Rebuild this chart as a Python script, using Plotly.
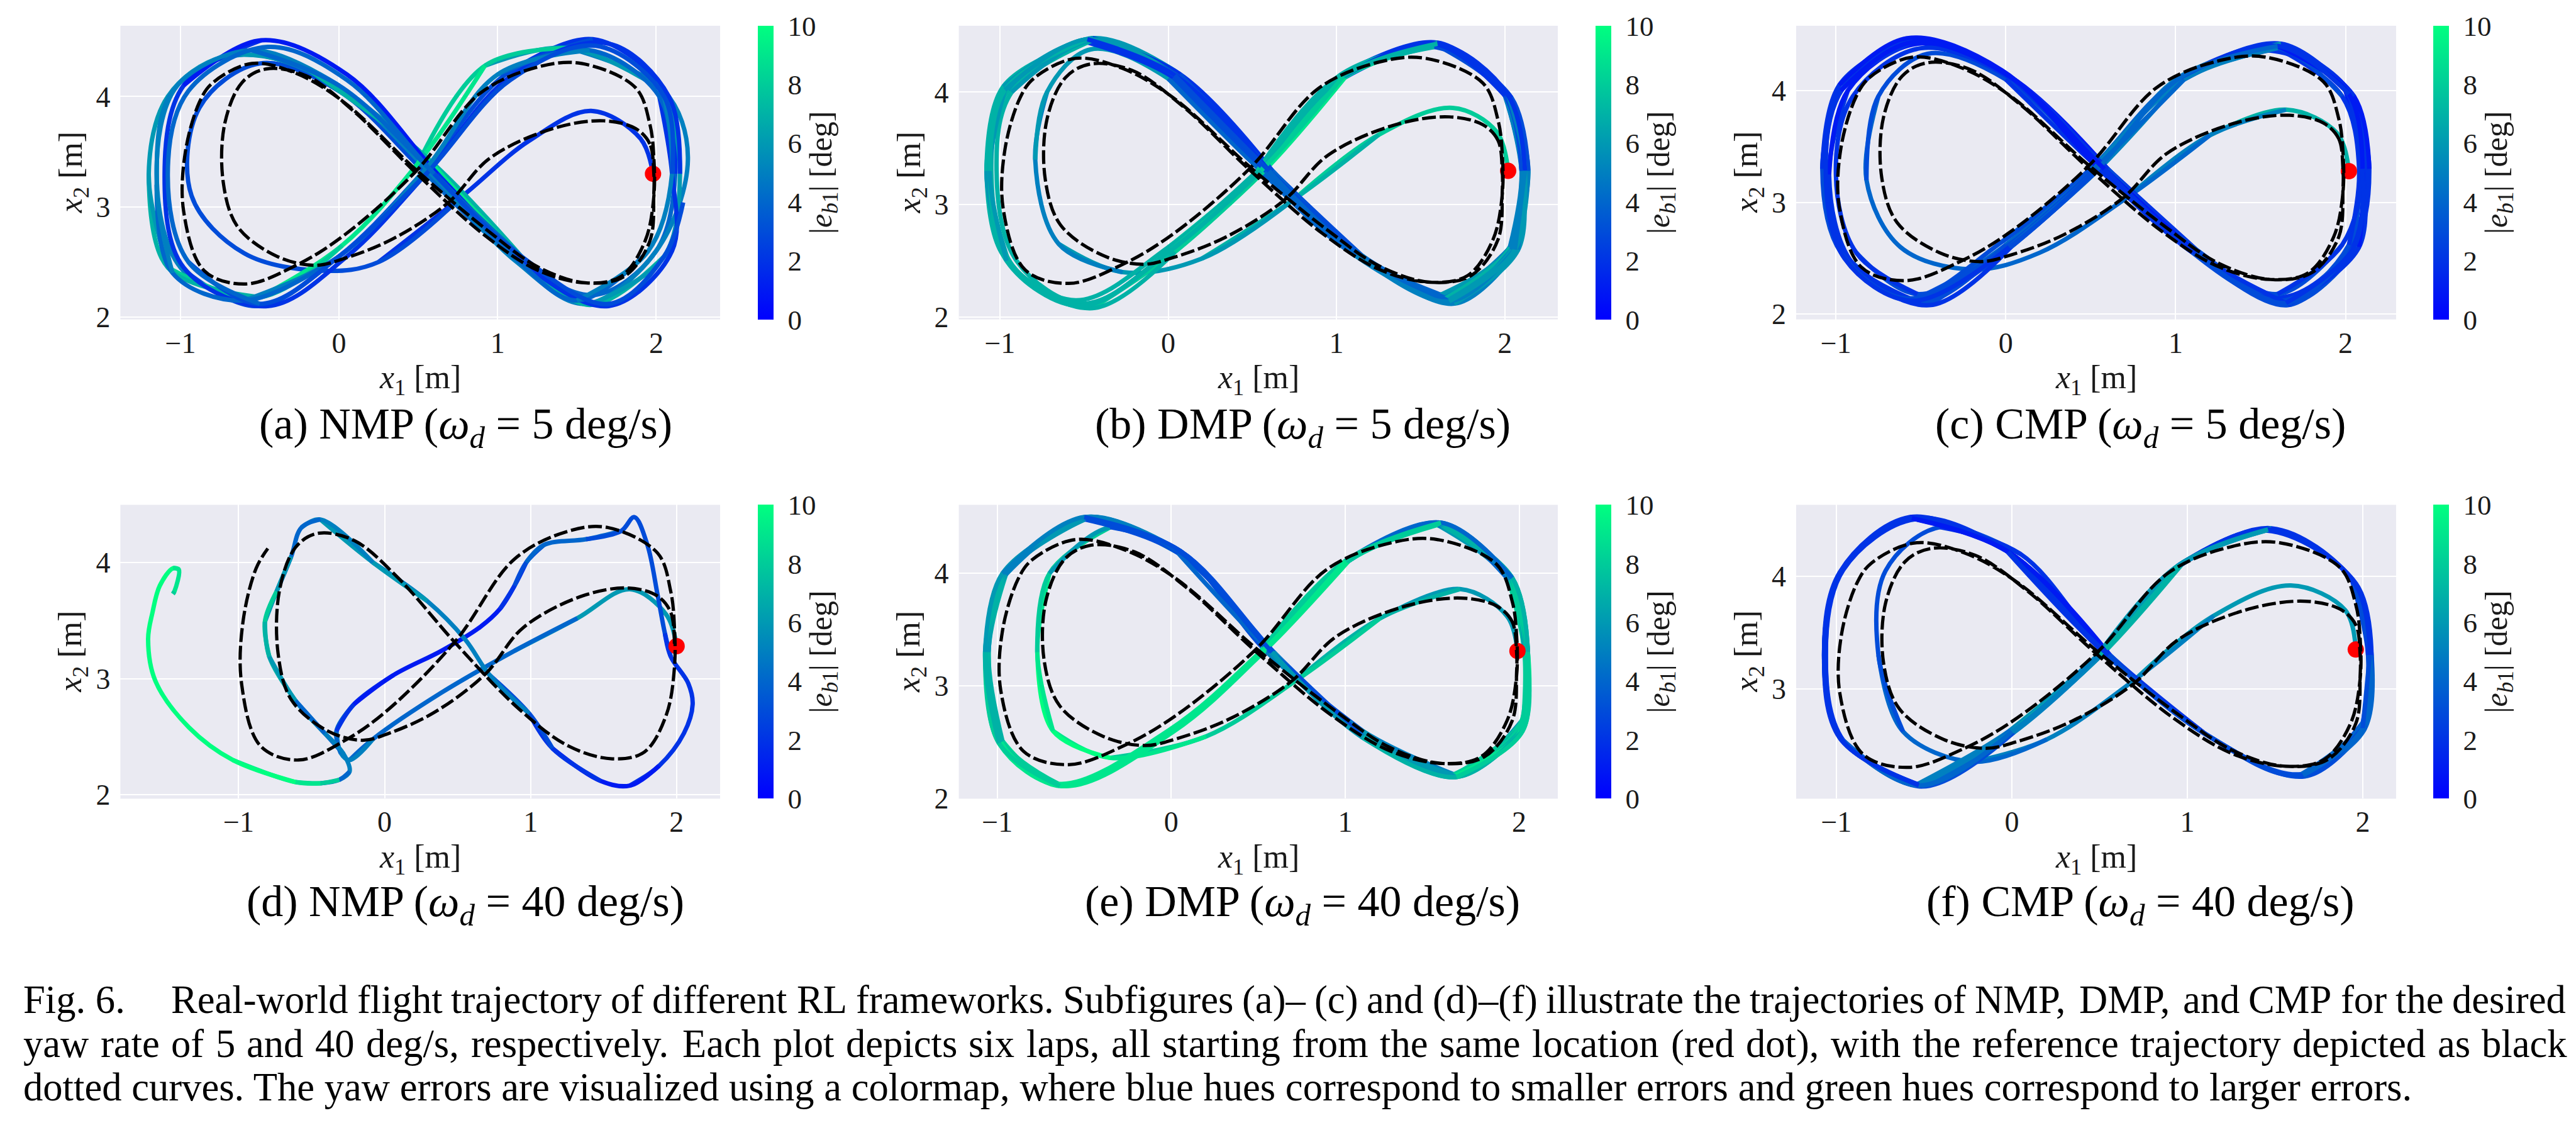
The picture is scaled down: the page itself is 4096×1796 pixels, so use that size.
import plotly.graph_objects as go
from plotly.colors import sample_colorscale

W, H = 4096, 1796
FONT = "Liberation Serif"
INK = "#1a1a1a"
BG = "#EAEAF2"
WINTER = [[0.0, "rgb(0,0,255)"], [1.0, "rgb(0,255,128)"]]
E_MAX = 10

# ---------------- reference trajectory (black dashed) ----------------
REF_X = [1.985, 1.96, 1.87, 1.67, 1.35, 0.95, 0.69, 0.34, 0.03, -0.15, -0.39, -0.64, -0.73, -0.72, -0.61, -0.46, -0.21, 0.09, 0.49, 0.92, 1.26, 1.56, 1.78, 1.93, 1.985,
         1.985, 1.96, 1.87, 1.53, 1.26, 0.89, 0.49, 0.03, -0.27, -0.59, -0.85, -0.98, -0.97, -0.88, -0.80, -0.55, -0.27, 0.03, 0.49, 0.95, 1.26, 1.56, 1.80, 1.96, 1.985, 1.985]
REF_Y = [3.30, 3.57, 3.71, 3.78, 3.71, 3.44, 3.04, 2.71, 2.53, 2.47, 2.55, 2.82, 3.22, 3.76, 4.13, 4.25, 4.19, 3.87, 3.30, 2.74, 2.42, 2.31, 2.37, 2.69, 3.09,
         3.45, 3.75, 4.08, 4.30, 4.27, 4.03, 3.33, 2.74, 2.47, 2.30, 2.42, 2.96, 3.49, 3.95, 4.12, 4.30, 4.21, 3.95, 3.33, 2.77, 2.45, 2.31, 2.37, 2.69, 3.12, 3.30]
REF_D_LEN = 40   # panel (d): reference shown only up to the crash

# start location (red dot) per panel a..f
START_X = [1.98, 2.02, 2.02, 2.00, 1.99, 1.96]
START_Y = [3.30, 3.30, 3.28, 3.28, 3.31, 3.35]

# ---------------- (a) NMP 5 deg/s ----------------
A_X = [1.98, 1.90, 1.59, 1.20, 0.78, 0.25, -0.10, -0.60, -0.93, -0.88, -0.50, 0.00, 0.55, 1.05, 1.60, 2.00,
       2.12, 2.05, 1.60, 1.05, 0.52, 0.00, -0.52, -1.00, -1.15, -1.02, -0.60, -0.02, 0.58, 1.12, 1.55, 2.00,
       2.20, 2.05, 1.45, 0.92, 0.50, 0.02, -0.50, -1.08, -1.20, -1.08, -0.73, -0.20, 0.55, 1.15, 1.58, 2.05,
       2.15, 2.08, 1.70, 1.10, 0.55, 0.05, -0.45, -0.98, -1.10, -0.98, -0.49, 0.05, 0.62, 1.15, 1.70, 2.10,
       2.10, 2.02, 1.58, 1.00, 0.55, 0.00, -0.60, -1.05, -1.15, -1.05, -0.55, 0.00, 0.60, 1.10, 1.50, 1.95,
       2.10, 2.05, 1.62, 1.08, 0.55, 0.00, -0.50, -0.95, -1.08, -0.95, -0.45, 0.05, 0.60, 1.15, 1.70, 2.05,
       2.17]
A_Y = [3.30, 3.62, 3.87, 3.60, 3.10, 2.50, 2.42, 2.58, 3.10, 3.90, 4.30, 4.05, 3.30, 2.62, 2.20, 2.60,
       3.30, 4.05, 4.52, 4.20, 3.30, 2.55, 2.10, 2.45, 3.30, 4.10, 4.38, 4.10, 3.30, 2.50, 2.12, 2.60,
       3.45, 4.05, 4.44, 4.28, 3.40, 2.65, 2.18, 2.45, 3.30, 4.00, 4.36, 4.25, 3.45, 2.55, 2.11, 2.55,
       3.30, 4.00, 4.48, 4.20, 3.30, 2.55, 2.10, 2.45, 3.30, 4.10, 4.51, 4.20, 3.30, 2.50, 2.10, 2.60,
       3.30, 4.00, 4.42, 4.20, 3.35, 2.55, 2.15, 2.40, 3.20, 4.05, 4.42, 4.10, 3.30, 2.55, 2.15, 2.60,
       3.30, 4.00, 4.46, 4.15, 3.30, 2.55, 2.12, 2.50, 3.30, 4.05, 4.45, 4.15, 3.30, 2.55, 2.12, 2.55,
       3.04]
A_E = [2, 2, 2, 2, 3, 3, 3, 3, 3, 3, 3, 3, 4, 4, 4, 4,
       2, 2, 3, 3, 3, 3, 5, 5, 5, 5, 5, 5, 5, 5, 5, 5,
       5, 6, 8, 9, 9, 8, 7, 6, 6, 6, 6, 7, 9, 7, 6, 6,
       2, 2, 2, 2, 2, 2, 2, 2, 2, 1, 1, 1, 2, 2, 2, 2,
       4, 4, 5, 5, 5, 4, 4, 5, 5, 5, 4, 4, 4, 4, 5, 5,
       3, 3, 3, 3, 3, 3, 4, 4, 4, 4, 4, 4, 3, 3, 3, 3,
       3]

# ---------------- (b) DMP 5 deg/s ----------------
B_X = [2.02, 1.95, 1.69, 1.25, 0.75, 0.20, -0.27, -0.65, -0.79, -0.72, -0.46, 0.00, 0.55, 1.08, 1.62, 2.02,
       2.12, 2.02, 1.60, 1.02, 0.55, 0.02, -0.50, -0.95, -1.07, -0.97, -0.48, 0.05, 0.60, 1.13, 1.68, 2.05,
       2.14, 2.04, 1.62, 1.05, 0.57, 0.04, -0.45, -0.92, -1.05, -0.95, -0.45, 0.07, 0.62, 1.15, 1.70, 2.08,
       2.10, 2.00, 1.58, 1.00, 0.53, 0.00, -0.55, -0.98, -1.08, -0.98, -0.50, 0.03, 0.58, 1.10, 1.65, 2.03,
       2.10, 2.00, 1.58, 1.03, 0.55, 0.02, -0.50, -0.90, -1.02, -0.93, -0.45, 0.05, 0.60, 1.12, 1.66, 2.04,
       2.12, 2.02, 1.60, 1.04, 0.55, 0.02, -0.52, -0.96, -1.06, -0.97, -0.48, 0.04, 0.60, 1.12, 1.67, 2.06,
       2.12]
B_Y = [3.30, 3.65, 3.86, 3.62, 3.05, 2.52, 2.40, 2.65, 3.40, 4.00, 4.38, 4.12, 3.30, 2.58, 2.20, 2.60,
       3.30, 3.98, 4.44, 4.15, 3.30, 2.60, 2.12, 2.50, 3.30, 4.00, 4.47, 4.15, 3.30, 2.55, 2.14, 2.60,
       3.30, 3.95, 4.42, 4.13, 3.30, 2.58, 2.08, 2.45, 3.25, 4.02, 4.48, 4.16, 3.30, 2.55, 2.12, 2.60,
       3.30, 4.00, 4.40, 4.12, 3.30, 2.62, 2.15, 2.55, 3.30, 4.05, 4.45, 4.13, 3.30, 2.58, 2.17, 2.62,
       3.30, 3.97, 4.43, 4.13, 3.30, 2.60, 2.12, 2.50, 3.30, 4.00, 4.46, 4.15, 3.30, 2.57, 2.15, 2.60,
       3.30, 3.97, 4.43, 4.14, 3.30, 2.60, 2.10, 2.50, 3.30, 4.02, 4.47, 4.15, 3.30, 2.56, 2.14, 2.60,
       3.30]
B_E = [8, 8, 8, 7, 6, 6, 5, 5, 6, 6, 6, 4, 4, 5, 6, 6,
       3, 2, 7, 8, 7, 7, 7, 6, 7, 6, 3, 3, 4, 5, 6, 5,
       3, 2, 8, 9, 8, 7, 7, 7, 7, 6, 2, 3, 4, 5, 6, 5,
       3, 3, 7, 8, 7, 7, 7, 6, 7, 6, 2, 3, 4, 5, 7, 5,
       3, 2, 8, 8, 7, 7, 7, 7, 7, 6, 3, 3, 4, 5, 6, 5,
       2, 2, 7, 8, 7, 7, 7, 6, 7, 6, 2, 3, 4, 5, 6, 5,
       3]

# ---------------- (c) CMP 5 deg/s ----------------
C_X = [2.02, 1.95, 1.65, 1.20, 0.72, 0.20, -0.20, -0.62, -0.82, -0.75, -0.46, 0.00, 0.55, 1.08, 1.62, 2.02,
       2.12, 2.03, 1.58, 1.02, 0.53, 0.00, -0.50, -0.93, -1.06, -0.96, -0.55, 0.00, 0.58, 1.12, 1.66, 2.05,
       2.14, 2.05, 1.62, 1.05, 0.55, 0.03, -0.45, -0.90, -1.04, -0.93, -0.52, 0.03, 0.60, 1.14, 1.68, 2.08,
       2.10, 2.00, 1.55, 1.00, 0.50, -0.02, -0.58, -0.97, -1.08, -0.98, -0.58, -0.02, 0.55, 1.10, 1.63, 2.02,
       2.08, 1.98, 1.60, 1.05, 0.52, 0.00, -0.52, -0.88, -1.00, -0.90, -0.50, 0.04, 0.60, 1.12, 1.60, 1.98,
       2.10, 2.02, 1.60, 1.03, 0.54, 0.02, -0.55, -0.95, -1.06, -0.97, -0.56, 0.00, 0.58, 1.12, 1.65, 2.05,
       2.10]
C_Y = [3.28, 3.62, 3.83, 3.60, 3.05, 2.55, 2.40, 2.60, 3.20, 3.95, 4.33, 4.10, 3.30, 2.58, 2.15, 2.58,
       3.30, 3.98, 4.40, 4.12, 3.30, 2.62, 2.10, 2.50, 3.30, 4.02, 4.45, 4.15, 3.30, 2.55, 2.08, 2.60,
       3.30, 3.95, 4.42, 4.13, 3.30, 2.60, 2.08, 2.45, 3.25, 4.00, 4.42, 4.12, 3.30, 2.52, 2.10, 2.60,
       3.30, 4.00, 4.36, 4.08, 3.30, 2.65, 2.14, 2.55, 3.30, 4.05, 4.47, 4.18, 3.30, 2.55, 2.12, 2.62,
       3.30, 3.95, 4.38, 4.10, 3.30, 2.60, 2.18, 2.55, 3.25, 3.95, 4.38, 4.10, 3.30, 2.58, 2.18, 2.62,
       3.30, 3.97, 4.40, 4.12, 3.30, 2.60, 2.12, 2.50, 3.30, 4.00, 4.43, 4.15, 3.30, 2.55, 2.10, 2.60,
       3.30]
C_E = [7, 7, 5, 4, 4, 4, 4, 4, 3, 3, 3, 2, 2, 2, 2, 2,
       2, 2, 5, 5, 4, 3, 2, 2, 2, 2, 1, 1, 2, 3, 2, 2,
       1, 2, 6, 5, 3, 2, 2, 2, 1, 1, 1, 2, 3, 3, 2, 1,
       2, 2, 4, 4, 3, 3, 3, 3, 2, 1, 1, 1, 2, 3, 3, 2,
       2, 3, 5, 4, 3, 3, 2, 2, 2, 2, 2, 2, 3, 3, 2, 2,
       1, 2, 4, 4, 3, 2, 2, 2, 2, 1, 1, 1, 2, 3, 2, 2,
       1]

# ---------------- (d) NMP 40 deg/s (crash) ----------------
D_X = [2.00, 1.93, 1.68, 1.32, 0.89, 0.39, -0.08, -0.24, -0.30, -0.33, -0.21, 0.06, 0.39, 0.65, 0.79, 0.89, 0.97, 1.09, 1.38, 1.62,
       1.71, 1.80, 1.87, 1.92, 1.96, 2.08, 2.11, 2.05, 1.88, 1.68, 1.48, 1.15, 0.99, 0.72, 0.55, 0.29, -0.08, -0.44, -0.57, -0.64,
       -0.74, -0.82, -0.79, -0.61, -0.41, -0.28, -0.24, -0.31, -0.44, -0.61, -1.04, -1.34, -1.57, -1.62, -1.59, -1.54, -1.45, -1.41, -1.44, -1.45]
D_Y = [3.28, 3.55, 3.77, 3.52, 3.24, 2.88, 2.48, 2.30, 2.36, 2.55, 2.78, 3.03, 3.24, 3.44, 3.60, 3.80, 4.00, 4.15, 4.20, 4.27,
       4.39, 4.15, 3.72, 3.39, 3.19, 2.96, 2.78, 2.53, 2.25, 2.08, 2.12, 2.40, 2.70, 3.03, 3.34, 3.67, 4.00, 4.37, 4.30, 4.05,
       3.75, 3.49, 3.19, 2.81, 2.53, 2.35, 2.20, 2.13, 2.10, 2.11, 2.30, 2.58, 2.98, 3.34, 3.57, 3.80, 3.95, 3.94, 3.75, 3.73]
D_E = [6, 6, 6, 4, 4, 4, 5, 5, 4, 2, 1, 1, 1, 1, 2, 3, 4, 4, 3, 3,
       3, 3, 3, 2, 2, 2, 2, 2, 1, 1, 2, 3, 5, 5, 5, 6, 5, 4, 4, 6,
       8, 7, 6, 4, 5, 5, 4, 8, 9, 10, 10, 10, 10, 10, 10, 10, 9, 9, 8, 5]

# ---------------- (e) DMP 40 deg/s ----------------
E_X = [1.99, 1.93, 1.66, 1.20, 0.72, 0.20, -0.35, -0.68, -0.77, -0.70, -0.35, 0.05, 0.55, 1.10, 1.63, 2.02,
       2.04, 1.95, 1.54, 1.00, 0.52, 0.00, -0.64, -0.98, -1.06, -0.96, -0.49, 0.05, 0.58, 1.10, 1.63, 2.00,
       2.05, 1.96, 1.55, 1.02, 0.53, 0.01, -0.62, -0.99, -1.06, -0.96, -0.48, 0.06, 0.59, 1.11, 1.64, 2.02,
       2.03, 1.94, 1.53, 0.99, 0.51, -0.01, -0.65, -0.97, -1.05, -0.95, -0.50, 0.04, 0.57, 1.09, 1.62, 1.99,
       2.04, 1.95, 1.54, 1.01, 0.52, 0.00, -0.63, -0.98, -1.06, -0.96, -0.49, 0.05, 0.58, 1.10, 1.63, 2.01,
       2.05, 1.96, 1.55, 1.00, 0.52, 0.00, -0.64, -0.99, -1.07, -0.97, -0.50, 0.05, 0.58, 1.10, 1.64, 2.02,
       2.04]
E_Y = [3.31, 3.62, 3.86, 3.60, 3.05, 2.55, 2.36, 2.60, 3.30, 4.00, 4.41, 4.20, 3.30, 2.60, 2.21, 2.70,
       3.30, 3.95, 4.44, 4.10, 3.30, 2.60, 2.12, 2.50, 3.30, 4.00, 4.50, 4.20, 3.30, 2.55, 2.20, 2.60,
       3.30, 3.96, 4.45, 4.11, 3.30, 2.59, 2.11, 2.49, 3.30, 4.01, 4.49, 4.19, 3.30, 2.54, 2.19, 2.60,
       3.30, 3.94, 4.43, 4.09, 3.30, 2.61, 2.13, 2.51, 3.30, 3.99, 4.48, 4.18, 3.30, 2.56, 2.21, 2.61,
       3.30, 3.95, 4.44, 4.10, 3.30, 2.60, 2.12, 2.50, 3.30, 4.00, 4.49, 4.19, 3.30, 2.55, 2.20, 2.60,
       3.30, 3.96, 4.45, 4.11, 3.30, 2.60, 2.11, 2.49, 3.30, 4.00, 4.50, 4.20, 3.30, 2.54, 2.19, 2.60,
       3.30]
E_E = [6, 6, 7, 8, 8, 9, 10, 9, 8, 6, 3, 3, 5, 6, 8, 8,
       7, 5, 8, 9, 9, 9, 8, 7, 6, 5, 3, 3, 6, 7, 8, 8,
       7, 5, 8, 9, 9, 9, 9, 7, 6, 5, 3, 3, 6, 7, 9, 8,
       6, 4, 8, 9, 9, 9, 8, 7, 6, 5, 3, 4, 6, 7, 8, 8,
       7, 5, 8, 9, 9, 9, 9, 7, 6, 5, 3, 3, 6, 7, 9, 8,
       7, 4, 8, 9, 9, 9, 8, 7, 6, 5, 3, 3, 6, 7, 8, 8,
       7]

# ---------------- (f) CMP 40 deg/s ----------------
F_X = [1.96, 1.90, 1.59, 1.15, 0.70, 0.20, -0.22, -0.62, -0.76, -0.72, -0.41, 0.05, 0.55, 1.10, 1.64, 2.00,
       2.04, 1.95, 1.46, 0.95, 0.50, 0.00, -0.53, -0.97, -1.07, -0.97, -0.57, -0.02, 0.55, 1.10, 1.66, 2.00,
       2.03, 1.94, 1.48, 0.97, 0.51, 0.01, -0.51, -0.96, -1.06, -0.96, -0.55, -0.01, 0.56, 1.11, 1.67, 2.01,
       2.05, 1.96, 1.45, 0.94, 0.49, -0.01, -0.54, -0.98, -1.07, -0.98, -0.58, -0.03, 0.54, 1.09, 1.65, 2.01,
       2.04, 1.95, 1.47, 0.96, 0.50, 0.00, -0.52, -0.97, -1.06, -0.97, -0.56, -0.02, 0.55, 1.10, 1.66, 2.00,
       2.04, 1.95, 1.46, 0.95, 0.50, 0.00, -0.53, -0.97, -1.07, -0.97, -0.57, -0.02, 0.55, 1.10, 1.66, 2.00,
       2.04]
F_Y = [3.35, 3.70, 3.92, 3.65, 3.08, 2.55, 2.35, 2.62, 3.30, 4.05, 4.44, 4.20, 3.30, 2.60, 2.23, 2.70,
       3.30, 3.95, 4.42, 4.10, 3.30, 2.62, 2.14, 2.55, 3.30, 4.05, 4.52, 4.22, 3.30, 2.60, 2.23, 2.65,
       3.30, 3.96, 4.43, 4.11, 3.30, 2.61, 2.13, 2.54, 3.30, 4.06, 4.51, 4.21, 3.30, 2.59, 2.22, 2.64,
       3.30, 3.94, 4.41, 4.09, 3.30, 2.63, 2.15, 2.56, 3.30, 4.04, 4.53, 4.23, 3.30, 2.61, 2.24, 2.66,
       3.30, 3.95, 4.42, 4.10, 3.30, 2.62, 2.14, 2.55, 3.30, 4.05, 4.52, 4.22, 3.30, 2.60, 2.23, 2.65,
       3.30, 3.95, 4.42, 4.10, 3.30, 2.62, 2.14, 2.55, 3.30, 4.05, 4.52, 4.22, 3.30, 2.60, 2.23, 2.65,
       3.30]
F_E = [6, 6, 6, 5, 5, 4, 4, 3, 3, 3, 2, 2, 3, 3, 4, 3,
       2, 2, 6, 7, 5, 4, 2, 2, 2, 2, 1, 2, 3, 3, 4, 3,
       2, 2, 6, 7, 5, 3, 2, 2, 2, 2, 1, 2, 3, 3, 4, 3,
       2, 2, 6, 7, 5, 4, 2, 2, 2, 2, 1, 2, 3, 3, 4, 3,
       2, 2, 6, 7, 5, 4, 2, 2, 2, 2, 2, 2, 3, 3, 4, 3,
       2, 2, 6, 7, 5, 4, 2, 2, 2, 2, 1, 2, 3, 3, 4, 3,
       2]

PATH_X = [A_X, B_X, C_X, D_X, E_X, F_X]
PATH_Y = [A_Y, B_Y, C_Y, D_Y, E_Y, F_Y]
PATH_E = [A_E, B_E, C_E, D_E, E_E, F_E]

X_RANGES = [[-1.379, 2.403], [-1.244, 2.315], [-1.234, 2.298], [-1.81, 2.298], [-1.221, 2.222], [-1.229, 2.19]]
Y_RANGES = [[1.979, 4.642], [1.98, 4.59], [1.953, 4.581], [1.967, 4.496], [1.997, 4.609], [2.021, 4.639]]
X_TICKS = [-1, 0, 1, 2]
X_TICK_TEXT = ["\u22121", "0", "1", "2"]
Y_TICKS = [2, 3, 4]
CB_TICKS = [0, 2, 4, 6, 8, 10]

SUBCAPTIONS = [
    "(a) NMP (<i>\u03c9</i><sub><i>d</i></sub> = 5 deg/s)",
    "(b) DMP (<i>\u03c9</i><sub><i>d</i></sub> = 5 deg/s)",
    "(c) CMP (<i>\u03c9</i><sub><i>d</i></sub> = 5 deg/s)",
    "(d) NMP (<i>\u03c9</i><sub><i>d</i></sub> = 40 deg/s)",
    "(e) DMP (<i>\u03c9</i><sub><i>d</i></sub> = 40 deg/s)",
    "(f) CMP (<i>\u03c9</i><sub><i>d</i></sub> = 40 deg/s)",
]
XLABEL = "<i>x</i><sub>1</sub> [m]"
YLABEL = "<i>x</i><sub>2</sub> [m]"
CBLABEL = "|<i>e</i><sub><i>b</i>1</sub>| [deg]"
CAPTION_LABEL = "Fig. 6."
CAPTION_LINES = [
    "Real-world flight trajectory of different RL frameworks. Subfigures (a)\u2013 (c) and (d)\u2013(f) illustrate the trajectories of NMP, DMP, and CMP for the desired",
    "yaw rate of 5 and 40 deg/s, respectively. Each plot depicts six laps, all starting from the same location (red dot), with the reference trajectory depicted as black",
    "dotted curves. The yaw errors are visualized using a colormap, where blue hues correspond to smaller errors and green hues correspond to larger errors.",
]

# ---------------- layout geometry (pixels) ----------------
COL_L = [183.4, 1516.6, 2848.0]
COL_R = [1137.0, 2469.0, 3802.0]
ROW_T = [33.4, 806.0]
ROW_B = [507.0, 1280.0]
CB_L = [1196.6, 2529.0, 3861.0]
SUBCAP_X = [732, 2063, 3395]
SUBCAP_Y = [681, 1451]
CAP_BASE = [1625, 1696, 1766]       # caption baselines
CAP_LEFT = 28
CAP_TEXT_LEFT = [263, 28, 28]       # where justified text starts on each line
CAP_RIGHT = [4071, 4073, None]      # justified right edge (None = ragged)
CAP_LAST_RIGHT = 3829               # natural end of the last line

# Times-compatible advance widths (per 1000 em) used to justify the caption
TW = {" ": 250, "(": 333, ")": 333, ",": 250, "-": 333, ".": 250, "/": 278, "\u2013": 500}
for ch in "0123456789":
    TW[ch] = 500
TW.update(dict(zip("ABCDEFGHIJKLMNOPQRSTUVWXYZ",
                   [722, 667, 667, 722, 611, 556, 722, 722, 333, 389, 722, 611, 889, 722, 722, 556, 722, 667, 556, 611, 722, 722, 944, 722, 722, 611])))
TW.update(dict(zip("abcdefghijklmnopqrstuvwxyz",
                   [444, 500, 444, 500, 444, 333, 500, 500, 278, 278, 500, 278, 778, 500, 500, 500, 500, 333, 389, 278, 500, 500, 722, 500, 500, 444])))


def text_em(s):
    return sum(TW.get(ch, 500) for ch in s) / 1000.0


CAP_FONT = (CAP_LAST_RIGHT - CAP_LEFT) / text_em(CAPTION_LINES[2])
CAP_FONT = max(56.0, min(66.0, CAP_FONT))


def px(v):
    return v / W


def py(v):
    return 1 - v / H


fig = go.Figure()


def draw_path(xs, ys, es, xr, yr):
    n = len(xs)
    i = 0
    while i < n - 1:
        j = i
        while j + 1 < n - 1 and es[j + 1] == es[i]:
            j += 1
        end = min(j + 2, n - 1)
        col = sample_colorscale(WINTER, [es[i] / E_MAX])[0]
        fig.add_trace(go.Scatter(
            x=xs[i:end + 1], y=ys[i:end + 1], mode="lines",
            line=dict(color=col, width=7, shape="spline", smoothing=1.0),
            xaxis=xr, yaxis=yr, hoverinfo="skip", showlegend=False))
        i = j + 1


annotations = []
layout_axes = {}
for p in range(6):
    r, c = divmod(p, 3)
    s = "" if p == 0 else str(p + 1)
    xr, yr = "x" + s, "y" + s
    draw_path(PATH_X[p], PATH_Y[p], PATH_E[p], xr, yr)
    fig.add_trace(go.Scatter(
        x=[START_X[p]], y=[START_Y[p]], mode="markers",
        marker=dict(size=1, color=[0], colorscale=WINTER, cmin=0, cmax=E_MAX, showscale=True,
                    colorbar=dict(x=px(CB_L[c]), xanchor="left", xpad=0, ypad=0,
                                  y=py((ROW_T[r] + ROW_B[r]) / 2), yanchor="middle",
                                  len=(ROW_B[r] - ROW_T[r]) / H, lenmode="fraction",
                                  thickness=25, thicknessmode="pixels", outlinewidth=0,
                                  tickvals=CB_TICKS, ticks="outside", ticklen=14,
                                  tickcolor="rgba(0,0,0,0)",
                                  tickfont=dict(family=FONT, size=45, color=INK),
                                  title=dict(text=CBLABEL, side="right",
                                             font=dict(family=FONT, size=50, color=INK)))),
        xaxis=xr, yaxis=yr, hoverinfo="skip", showlegend=False))
    fig.add_trace(go.Scatter(
        x=[START_X[p]], y=[START_Y[p]], mode="markers",
        marker=dict(size=26, color="#ff0000", line=dict(width=0)),
        xaxis=xr, yaxis=yr, hoverinfo="skip", showlegend=False))
    nref = REF_D_LEN if p == 3 else len(REF_X)
    fig.add_trace(go.Scatter(
        x=REF_X[:nref], y=REF_Y[:nref], mode="lines",
        line=dict(color="black", width=5.2, dash="22px,6px", shape="spline", smoothing=1.0),
        xaxis=xr, yaxis=yr, hoverinfo="skip", showlegend=False))

    tickfont = dict(family=FONT, size=46, color=INK)
    layout_axes["xaxis" + s] = dict(
        domain=[px(COL_L[c]), px(COL_R[c])], range=X_RANGES[p], anchor=yr,
        tickvals=X_TICKS, ticktext=X_TICK_TEXT, showgrid=True, gridcolor="white", gridwidth=2,
        zeroline=False, showline=False, ticks="", tickfont=tickfont, ticklabelstandoff=6)
    layout_axes["yaxis" + s] = dict(
        domain=[py(ROW_B[r]), py(ROW_T[r])], range=Y_RANGES[p], anchor=xr,
        tickvals=Y_TICKS, showgrid=True, gridcolor="white", gridwidth=2,
        zeroline=False, showline=False, ticks="", tickfont=tickfont, ticklabelstandoff=15)

    annotations.append(dict(text=XLABEL, x=px((COL_L[c] + COL_R[c]) / 2), y=py(ROW_B[r] + 97),
                            xref="paper", yref="paper", xanchor="center", yanchor="middle",
                            showarrow=False, font=dict(family=FONT, size=52, color=INK)))
    annotations.append(dict(text=YLABEL, x=px(COL_L[c] - 75.5), y=py((ROW_T[r] + ROW_B[r]) / 2),
                            xref="paper", yref="paper", xanchor="center", yanchor="middle",
                            textangle=-90, showarrow=False, font=dict(family=FONT, size=52, color=INK)))
    annotations.append(dict(text=SUBCAPTIONS[p], x=px(SUBCAP_X[c]), y=py(SUBCAP_Y[r]),
                            xref="paper", yref="paper", xanchor="center", yanchor="middle",
                            showarrow=False, font=dict(family=FONT, size=70, color="black")))

# ---------------- caption (justified like the journal layout) ----------------
cap_font = dict(family=FONT, size=CAP_FONT, color="black")
mid_shift = 0.3375 * CAP_FONT   # box middle sits above the baseline


def cap_ann(text, x, k):
    return dict(text=text, x=px(x), y=py(CAP_BASE[k] - mid_shift), xref="paper", yref="paper",
                xanchor="left", yanchor="middle", showarrow=False, font=cap_font, borderpad=0)


annotations.append(cap_ann(CAPTION_LABEL, CAP_LEFT, 0))
for k, line in enumerate(CAPTION_LINES):
    if CAP_RIGHT[k] is None:
        annotations.append(cap_ann(line, CAP_TEXT_LEFT[k], k))
        continue
    words = line.split(" ")
    widths = [text_em(w) * CAP_FONT for w in words]
    gap = (CAP_RIGHT[k] - CAP_TEXT_LEFT[k] - sum(widths)) / (len(words) - 1)
    x = CAP_TEXT_LEFT[k]
    for w, wd in zip(words, widths):
        annotations.append(cap_ann(w, x, k))
        x += wd + gap

fig.update_layout(
    width=W, height=H, margin=dict(l=0, r=0, t=0, b=0),
    paper_bgcolor="white", plot_bgcolor=BG, showlegend=False,
    annotations=annotations, **layout_axes)

fig.write_html("out.html")
